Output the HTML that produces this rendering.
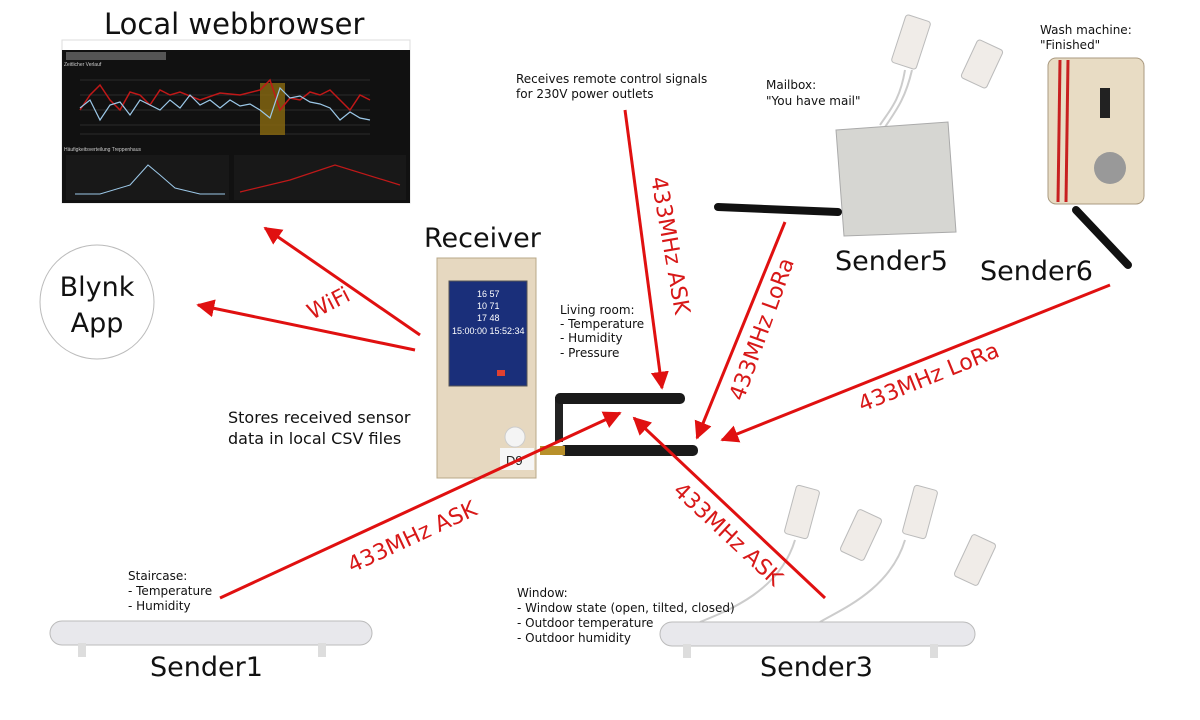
<!DOCTYPE html>
<html><head><meta charset="utf-8"><style>
body{margin:0;background:#fff;}
svg{display:block;font-family:"Liberation Sans","DejaVu Sans",sans-serif;}
.lbl{font-family:"DejaVu Sans","Liberation Sans",sans-serif;fill:#111;}
.red{fill:#d81818;font-family:"DejaVu Sans","Liberation Sans",sans-serif;font-size:22px;}
</style></head><body>
<svg width="1200" height="720" viewBox="0 0 1200 720">
<defs>
<marker id="ah" markerWidth="8" markerHeight="8" refX="7" refY="4" orient="auto" markerUnits="userSpaceOnUse" viewBox="0 0 8 8">
</marker>
<marker id="a" viewBox="0 0 10 10" refX="9" refY="5" markerWidth="18" markerHeight="18" markerUnits="userSpaceOnUse" orient="auto"><path d="M0,0 L10,5 L0,10 z" fill="#e01010"/></marker>
</defs>
<!-- Title -->
<text x="104" y="34" class="lbl" font-size="29">Local webbrowser</text>
<!-- Browser screenshot -->
<rect x="62" y="40" width="348" height="163" fill="#fff" stroke="#ddd"/>
<rect x="62" y="50" width="348" height="153" fill="#111"/>
<rect x="66" y="52" width="100" height="8" fill="#555"/>
<text x="64" y="66" font-size="5" fill="#ccc">Zeitlicher Verlauf</text>
<g stroke="#444" stroke-width="0.6">
<line x1="80" y1="80" x2="370" y2="80"/><line x1="80" y1="95" x2="370" y2="95"/><line x1="80" y1="110" x2="370" y2="110"/><line x1="80" y1="125" x2="370" y2="125"/><line x1="80" y1="134" x2="370" y2="134"/>
</g>
<rect x="260" y="83" width="25" height="52" fill="#8a6a10" opacity="0.8"/>
<polyline points="80,110 90,95 100,85 110,100 120,110 130,92 140,95 150,105 160,90 170,95 180,92 200,100 220,93 240,95 260,90 270,80 280,110 290,98 300,100 310,92 320,95 330,90 340,100 350,110 360,95 370,100" fill="none" stroke="#c01818" stroke-width="1.5"/>
<polyline points="80,108 90,100 100,120 110,105 120,102 130,115 140,100 150,105 160,110 170,100 180,108 190,95 200,105 210,100 220,108 230,100 240,106 250,104 260,110 270,118 280,88 290,98 300,96 310,102 320,104 330,108 340,120 350,112 360,118 370,120" fill="none" stroke="#9cc8e8" stroke-width="1.2"/>
<text x="64" y="151" font-size="5" fill="#ccc">Häufigkeitsverteilung Treppenhaus</text>
<rect x="66" y="155" width="163" height="45" fill="#181818"/>
<rect x="234" y="155" width="172" height="45" fill="#181818"/>
<polyline points="75,194 100,194 130,185 148,165 160,175 175,188 200,194 225,194" fill="none" stroke="#9cc8e8" stroke-width="1"/>
<polyline points="240,192 290,180 335,165 400,185" fill="none" stroke="#c01818" stroke-width="1.2"/>
<!-- Blynk -->
<circle cx="97" cy="302" r="57" fill="#fff" stroke="#bbb"/>
<text x="97" y="296" text-anchor="middle" class="lbl" font-size="27">Blynk</text>
<text x="97" y="332" text-anchor="middle" class="lbl" font-size="27">App</text>
<!-- Receiver -->
<text x="424" y="247" class="lbl" font-size="27">Receiver</text>
<rect x="437" y="258" width="99" height="220" fill="#e6d8c0" stroke="#b8a888"/>
<rect x="449" y="281" width="78" height="105" fill="#1a2f7a"/>
<rect x="449" y="281" width="78" height="105" fill="none" stroke="#555"/>
<text x="452" y="334" font-size="9" fill="#fff">15:00:00  15:52:34</text>
<text x="477" y="297" font-size="9" fill="#fff">16    57</text>
<text x="477" y="309" font-size="9" fill="#fff">10    71</text>
<text x="477" y="321" font-size="9" fill="#fff">17    48</text>
<rect x="497" y="370" width="8" height="6" fill="#e04030"/>
<circle cx="515" cy="437" r="10" fill="#f4f4f4" stroke="#ccc"/>
<rect x="500" y="448" width="34" height="22" fill="#f6f6f6"/>
<text x="506" y="465" font-size="13" fill="#222">D9</text>
<!-- antennas -->
<rect x="555" y="397" width="8" height="45" fill="#222"/>
<rect x="555" y="393" width="130" height="11" rx="5" fill="#1a1a1a"/>
<rect x="560" y="445" width="138" height="11" rx="5" fill="#1a1a1a"/>
<rect x="540" y="446" width="25" height="9" fill="#b8902a"/>
<!-- Receiver texts -->
<text class="lbl" font-size="12"><tspan x="560" y="314">Living room:</tspan><tspan x="560" y="328">- Temperature</tspan><tspan x="560" y="342">- Humidity</tspan><tspan x="560" y="357">- Pressure</tspan></text>
<text class="lbl" font-size="16"><tspan x="228" y="423">Stores received sensor</tspan><tspan x="228" y="444">data in local CSV files</tspan></text>
<text class="lbl" font-size="12"><tspan x="516" y="83">Receives remote control signals</tspan><tspan x="516" y="98">for 230V power outlets</tspan></text>
<!-- Mailbox / Sender5 -->
<text class="lbl" font-size="12"><tspan x="766" y="89">Mailbox:</tspan><tspan x="766" y="105">"You have mail"</tspan></text>
<rect x="898" y="17" width="26" height="50" rx="3" fill="#f0ece8" stroke="#bbb" transform="rotate(18 911 42)"/>
<rect x="968" y="43" width="28" height="42" rx="3" fill="#f0ece8" stroke="#bbb" transform="rotate(25 982 64)"/>
<path d="M905,70 C900,100 890,110 880,125 M912,70 C905,100 895,112 885,127" stroke="#ccc" fill="none" stroke-width="2"/>
<path d="M836,130 L948,122 L956,232 L844,236 Z" fill="#d6d6d2" stroke="#aaa"/>
<line x1="718" y1="207" x2="838" y2="212" stroke="#111" stroke-width="8" stroke-linecap="round"/>
<text x="835" y="270" class="lbl" font-size="27">Sender5</text>
<!-- Sender6 -->
<text class="lbl" font-size="12"><tspan x="1040" y="34">Wash machine:</tspan><tspan x="1040" y="49">"Finished"</tspan></text>
<rect x="1048" y="58" width="96" height="146" rx="8" fill="#e8dcc4" stroke="#aa9a80"/>
<line x1="1060" y1="60" x2="1058" y2="202" stroke="#c82020" stroke-width="3"/>
<line x1="1068" y1="60" x2="1066" y2="202" stroke="#c82020" stroke-width="3"/>
<rect x="1100" y="88" width="10" height="30" fill="#222"/>
<circle cx="1110" cy="168" r="16" fill="#999"/>
<line x1="1076" y1="210" x2="1128" y2="265" stroke="#111" stroke-width="8" stroke-linecap="round"/>
<text x="980" y="280" class="lbl" font-size="27">Sender6</text>
<!-- Sender1 -->
<text class="lbl" font-size="12"><tspan x="128" y="580">Staircase:</tspan><tspan x="128" y="595">- Temperature</tspan><tspan x="128" y="610">- Humidity</tspan></text>
<rect x="50" y="621" width="322" height="24" rx="12" fill="#e8e8ec" stroke="#bbb"/>
<rect x="78" y="643" width="8" height="14" fill="#ddd"/><rect x="318" y="643" width="8" height="14" fill="#ddd"/>
<text x="150" y="676" class="lbl" font-size="27">Sender1</text>
<!-- Sender3 -->
<g fill="#f0ece8" stroke="#bbb">
<rect x="790" y="487" width="24" height="50" rx="3" transform="rotate(15 802 512)"/>
<rect x="848" y="512" width="26" height="46" rx="3" transform="rotate(25 861 535)"/>
<rect x="908" y="487" width="24" height="50" rx="3" transform="rotate(15 920 512)"/>
<rect x="962" y="537" width="26" height="46" rx="3" transform="rotate(25 975 560)"/>
</g>
<path d="M795,540 C780,590 730,610 700,622 M905,540 C890,590 840,610 820,622" stroke="#ccc" fill="none" stroke-width="2"/>
<text class="lbl" font-size="12"><tspan x="517" y="597">Window:</tspan><tspan x="517" y="612">- Window state (open, tilted, closed)</tspan><tspan x="517" y="627">- Outdoor temperature</tspan><tspan x="517" y="642">- Outdoor humidity</tspan></text>
<rect x="660" y="622" width="315" height="24" rx="12" fill="#e8e8ec" stroke="#bbb"/>
<rect x="683" y="644" width="8" height="14" fill="#ddd"/><rect x="930" y="644" width="8" height="14" fill="#ddd"/>
<text x="760" y="676" class="lbl" font-size="27">Sender3</text>
<!-- arrows -->
<g stroke="#e01010" stroke-width="3" marker-end="url(#a)">
<line x1="420" y1="335" x2="265" y2="228"/>
<line x1="415" y1="350" x2="198" y2="305"/>
<line x1="625" y1="110" x2="662" y2="388"/>
<line x1="785" y1="222" x2="697" y2="438"/>
<line x1="1110" y1="285" x2="722" y2="440"/>
<line x1="220" y1="598" x2="620" y2="413"/>
<line x1="825" y1="598" x2="634" y2="418"/>
</g>
<text class="red" transform="translate(312,320) rotate(-27)">WiFi</text>
<text class="red" transform="translate(651,178) rotate(80)">433MHz ASK</text>
<text class="red" transform="translate(743,402) rotate(-70)">433MHz LoRa</text>
<text class="red" transform="translate(862,412) rotate(-22)">433MHz LoRa</text>
<text class="red" transform="translate(352,573) rotate(-25)">433MHz ASK</text>
<text class="red" transform="translate(672,492) rotate(43)">433MHz ASK</text>
</svg>
</body></html>
